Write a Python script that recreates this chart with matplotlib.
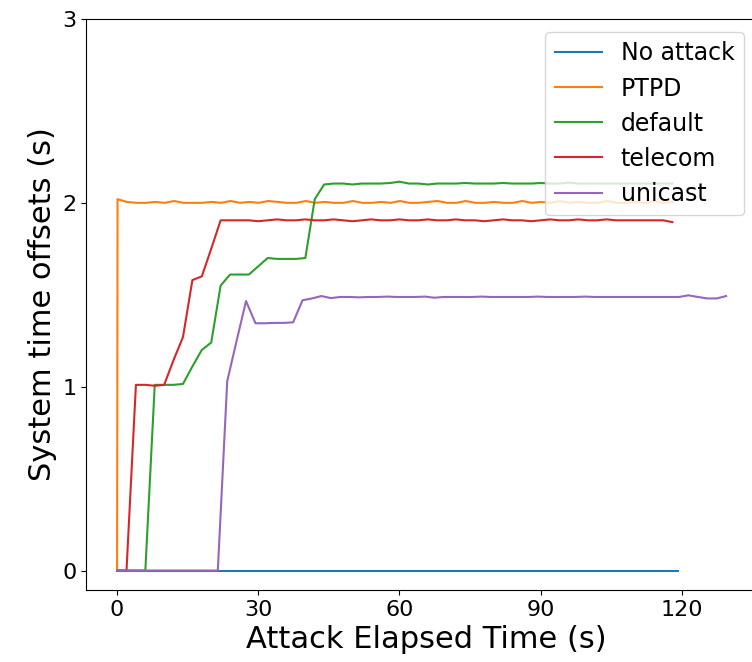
import numpy as np
import matplotlib
matplotlib.use('Agg')
import matplotlib.pyplot as plt

# sample times (s), one sample every 2 s
t = np.arange(0, 120, 2)
t_noattack = np.append(t, 119.2)
t_ptpd = np.concatenate([[0.0], t + 0.1])
t_unicast = np.concatenate([[0.0], np.arange(1.4, 130, 2)])

labels = ['No attack', 'PTPD', 'default', 'telecom', 'unicast']

no_attack = [0.0] * len(t_noattack)

ptpd = [0.0, 2.02,
        2.005, 2.0, 2.0, 2.005, 2.0, 2.01, 2.0, 2.0, 2.0, 2.005,
        2.0, 2.01, 2.0, 2.005, 2.0, 2.01, 2.005, 2.0, 2.0, 2.01,
        2.0, 2.005, 2.0, 2.0, 2.01, 2.0, 2.0, 2.005, 2.0, 2.01,
        2.0, 2.0, 2.005, 2.01, 2.0, 2.0, 2.01, 2.0, 2.0, 2.005,
        2.0, 2.0, 2.01, 2.0, 2.005, 2.0, 2.01, 2.0, 2.005, 2.0,
        2.0, 2.01, 2.0, 2.0, 2.005, 2.0, 2.01, 2.0, 2.005]

default = [0.0, 0.0, 0.0, 0.0, 1.01, 1.01, 1.01, 1.015, 1.11, 1.20, 1.24, 1.55,
           1.61, 1.61, 1.61, 1.655, 1.70, 1.695, 1.695, 1.695, 1.70, 2.02, 2.10,
           2.105, 2.105, 2.10, 2.105, 2.105, 2.105, 2.108, 2.115, 2.105, 2.105,
           2.10, 2.105, 2.105, 2.105, 2.108, 2.105, 2.105, 2.105, 2.108, 2.105,
           2.105, 2.105, 2.108, 2.105, 2.105, 2.11, 2.105, 2.105, 2.105, 2.105,
           2.105, 2.105, 2.105, 2.105, 2.105, 2.105, 2.105]

telecom = [0.0, 0.0, 1.01, 1.01, 1.005, 1.01, 1.145, 1.27, 1.58, 1.60, 1.75, 1.905,
           1.905, 1.905, 1.905, 1.90, 1.905, 1.91, 1.905, 1.905, 1.91, 1.905,
           1.905, 1.91, 1.905, 1.90, 1.905, 1.91, 1.905, 1.905, 1.91, 1.905,
           1.905, 1.91, 1.905, 1.905, 1.91, 1.905, 1.905, 1.90, 1.905, 1.91,
           1.905, 1.905, 1.90, 1.905, 1.91, 1.905, 1.905, 1.91, 1.905, 1.905,
           1.91, 1.905, 1.905, 1.905, 1.905, 1.905, 1.905, 1.895]

unicast = [0.0,
           0.0, 0.0, 0.0, 0.0, 0.0, 0.0, 0.0, 0.0, 0.0, 0.0, 0.0,
           1.03, 1.25, 1.466, 1.345, 1.345, 1.347, 1.347, 1.35, 1.47, 1.48, 1.493, 1.482,
           1.488, 1.488, 1.486, 1.488, 1.488, 1.49, 1.488, 1.488, 1.488, 1.49,
           1.484, 1.488, 1.488, 1.488, 1.488, 1.49, 1.488, 1.488, 1.488, 1.488,
           1.488, 1.49, 1.488, 1.488, 1.488, 1.488, 1.49, 1.488, 1.488, 1.488,
           1.488, 1.488, 1.488, 1.488, 1.488, 1.488, 1.488,
           1.497, 1.488, 1.48, 1.48, 1.493]

fig = plt.figure(figsize=(7.52, 6.62), dpi=100)
# the right edge of the axes sits just past the picture, as in the original crop
ax = fig.add_axes([0.1144, 0.1088, 0.905, 0.8625])

ax.plot(t_noattack, no_attack, label=labels[0])
ax.plot(t_ptpd, ptpd, label=labels[1])
ax.plot(t, default, label=labels[2])
ax.plot(t, telecom, label=labels[3])
ax.plot(t_unicast, unicast, label=labels[4])

ax.set_xlim(-6.6, 138)
ax.set_ylim(top=3)
ax.set_yticks([0, 1, 2, 3])
ax.set_xticks([0, 30, 60, 90, 120])
ax.tick_params(labelsize=16)
ax.set_xlabel('Attack Elapsed Time (s)', fontsize=22)
ax.set_ylabel('System time offsets (s)', fontsize=22)
ax.legend(loc='upper right', fontsize=17, labelspacing=0.47,
          bbox_to_anchor=(744 / 752, 1 - 32 / 662),
          bbox_transform=fig.transFigure, borderaxespad=0)

fig.savefig('out.png', dpi=100)
